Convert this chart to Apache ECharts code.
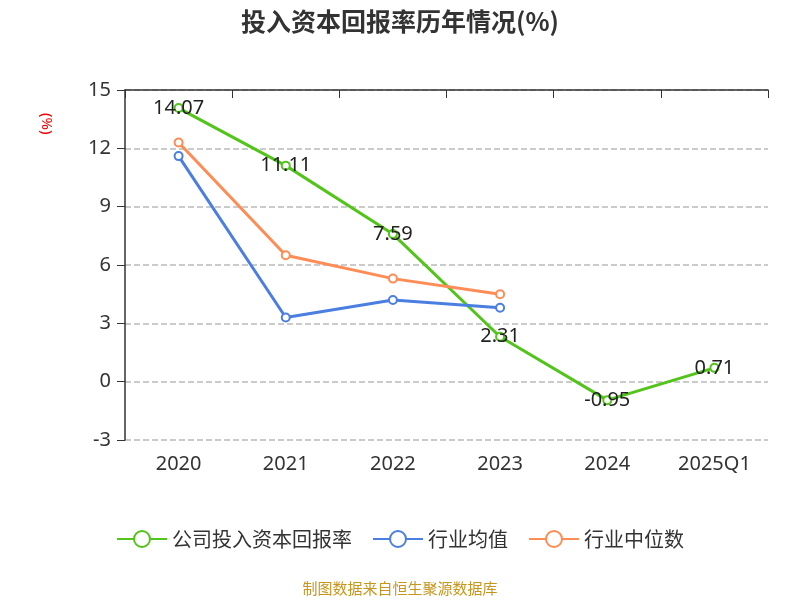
<!DOCTYPE html>
<html><head><meta charset="utf-8">
<script src="https://cdn.jsdelivr.net/npm/echarts@6/dist/echarts.min.js"></script>
<style>body{margin:0}#c{width:800px;height:600px}</style></head>
<body><div id="c"></div>
<script>
const categories=['2020','2021','2022','2023','2024','2025Q1'];
const company=[14.07,11.11,7.59,2.31,-0.95,0.71];
const industryAvg=[11.6,3.3,4.2,3.8,null,null];
const industryMedian=[12.3,6.5,5.3,4.5,null,null];
const yTicks={min:-3,max:15,interval:3};
const ch=echarts.init(document.getElementById('c'));
const f='"Noto Sans","Noto Sans CJK SC",sans-serif';
function s(name,data,color,label){return {name,type:'line',data,symbol:'emptyCircle',symbolSize:8,
 itemStyle:{color,borderColor:color,borderWidth:2},lineStyle:{width:3,color},
 label:label?{show:true,position:'inside',fontSize:20,color:'#222',fontFamily:f}:{show:false},
 emphasis:{disabled:true}};}
ch.setOption({
 animation:false,
 textStyle:{fontFamily:f},
 title:{text:'投入资本回报率历年情况(%)',left:'center',top:4,textStyle:{fontSize:25,fontWeight:'bold',color:'#333',fontFamily:'"Noto Sans CJK SC",sans-serif'}},
 legend:{bottom:46,itemWidth:50,itemHeight:20,itemGap:20,textStyle:{fontSize:20,color:'#333',fontFamily:'"Noto Sans CJK SC",sans-serif'},
  data:['公司投入资本回报率','行业均值','行业中位数']},
 graphic:[{type:'text',left:'center',bottom:4,style:{text:'制图数据来自恒生聚源数据库',fill:'#c8961e',fontSize:15,fontFamily:'"Noto Sans CJK SC",sans-serif'}},
  {type:'text',x:54,y:113,rotation:-Math.PI/2,style:{text:'(%)',fill:'#e00',fontSize:15,fontFamily:f}}],
 grid:{left:125,right:32,top:90,bottom:160},
 xAxis:[{type:'category',data:categories,position:'bottom',axisLine:{show:false},axisTick:{show:false},
   axisLabel:{fontSize:20,color:'#333',margin:14}},
  {type:'category',data:categories,position:'top',axisLine:{onZero:true,lineStyle:{color:'#333',width:1.5}},
   axisTick:{show:true,inside:true,length:8,lineStyle:{color:'#333'}},axisLabel:{show:false}}],
 yAxis:{type:'value',min:yTicks.min,max:yTicks.max,interval:yTicks.interval,
  axisLine:{show:true,lineStyle:{color:'#333',width:1.5}},axisTick:{show:true,length:8,lineStyle:{color:'#333'}},
  axisLabel:{fontSize:20,color:'#333',margin:14},
  splitLine:{lineStyle:{type:'dashed',color:'#bbb',width:1.5}}},
 series:[s('公司投入资本回报率',company,'#52c41a',true),s('行业均值',industryAvg,'#4a7ee0',false),s('行业中位数',industryMedian,'#ff8c55',false)]
});
</script></body></html>
